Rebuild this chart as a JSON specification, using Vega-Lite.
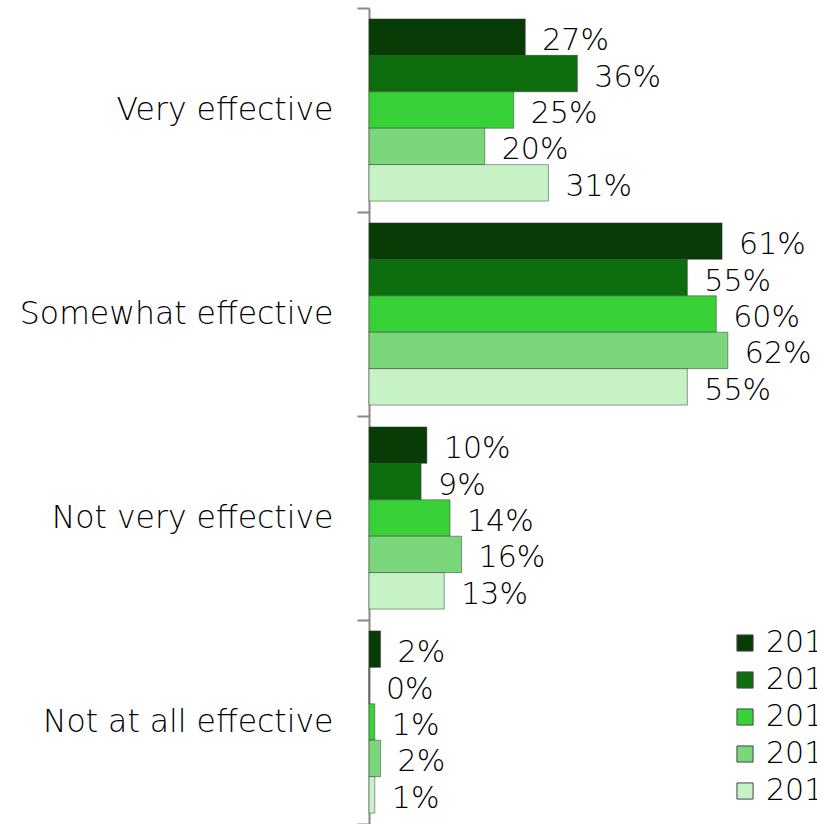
{
  "$schema": "https://vega.github.io/schema/vega-lite/v6.json",
  "autosize": {"type": "none"},
  "padding": {"left": 369, "top": 8, "right": 0, "bottom": 0},
  "width": 448,
  "height": 816,
  "background": "white",
  "config": {"view": {"stroke": null}, "font": "DejaVu Sans"},
  "data": {"values": [
    {"cat": "Very effective", "year": "2010", "v": 0.27},
    {"cat": "Very effective", "year": "2011", "v": 0.36},
    {"cat": "Very effective", "year": "2012", "v": 0.25},
    {"cat": "Very effective", "year": "2013", "v": 0.20},
    {"cat": "Very effective", "year": "2014", "v": 0.31},
    {"cat": "Somewhat effective", "year": "2010", "v": 0.61},
    {"cat": "Somewhat effective", "year": "2011", "v": 0.55},
    {"cat": "Somewhat effective", "year": "2012", "v": 0.60},
    {"cat": "Somewhat effective", "year": "2013", "v": 0.62},
    {"cat": "Somewhat effective", "year": "2014", "v": 0.55},
    {"cat": "Not very effective", "year": "2010", "v": 0.10},
    {"cat": "Not very effective", "year": "2011", "v": 0.09},
    {"cat": "Not very effective", "year": "2012", "v": 0.14},
    {"cat": "Not very effective", "year": "2013", "v": 0.16},
    {"cat": "Not very effective", "year": "2014", "v": 0.13},
    {"cat": "Not at all effective", "year": "2010", "v": 0.02},
    {"cat": "Not at all effective", "year": "2011", "v": 0.00},
    {"cat": "Not at all effective", "year": "2012", "v": 0.01},
    {"cat": "Not at all effective", "year": "2013", "v": 0.02},
    {"cat": "Not at all effective", "year": "2014", "v": 0.01}
  ]},
  "encoding": {
    "y": {
      "field": "cat", "type": "nominal",
      "sort": ["Very effective", "Somewhat effective", "Not very effective", "Not at all effective"],
      "scale": {"paddingInner": 0, "paddingOuter": 0},
      "axis": {
        "title": null, "domainColor": "#888888", "domainWidth": 2,
        "tickColor": "#888888", "tickWidth": 2, "tickSize": 12, "tickBand": "extent",
        "labelFontSize": 31.5, "labelFont": "DejaVu Sans", "labelFontWeight": 200,
        "labelColor": "#000000", "labelPadding": 24, "labelLimit": 0
      }
    },
    "yOffset": {
      "field": "year", "type": "nominal",
      "scale": {"paddingOuter": 0.3, "paddingInner": 0}
    },
    "x": {
      "field": "v", "type": "quantitative",
      "scale": {"domain": [0, 0.774], "nice": false, "zero": true},
      "axis": null
    }
  },
  "layer": [
    {
      "mark": {"type": "bar", "stroke": "#3a3a3a", "strokeWidth": 1, "strokeOpacity": 0.5},
      "encoding": {
        "color": {
          "field": "year", "type": "nominal",
          "scale": {"domain": ["2010", "2011", "2012", "2013", "2014"],
                    "range": ["#073c07", "#0c6e0c", "#38d238", "#7ad67a", "#c6f2c6"]},
          "legend": {
            "title": null, "orient": "none", "legendX": 361, "legendY": 620,
            "symbolType": "square", "symbolSize": 260, "symbolStrokeColor": "#444444",
            "symbolStrokeWidth": 1, "labelFontSize": 30, "labelFont": "DejaVu Sans",
            "labelFontWeight": 200, "labelColor": "#000000", "rowPadding": 7,
            "labelOffset": 6, "labelLimit": 0
          }
        }
      }
    },
    {
      "mark": {"type": "text", "align": "left", "baseline": "middle", "dx": 17, "dy": 4,
               "fontSize": 30, "font": "DejaVu Sans", "fontWeight": 200, "color": "#000000"},
      "encoding": {"text": {"field": "v", "type": "quantitative", "format": ".0%"}}
    }
  ]
}
